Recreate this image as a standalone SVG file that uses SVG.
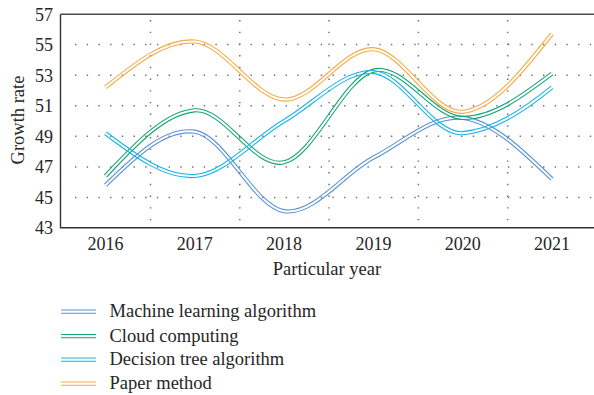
<svg xmlns="http://www.w3.org/2000/svg" xmlns:xlink="http://www.w3.org/1999/xlink" width="594" height="395" viewBox="0 0 594 395">
<style>
text{font-family:"Liberation Serif","Times New Roman",serif;fill:#262626}
.tick{font-size:18px}
.title{font-size:18.5px}
.leg{font-size:18.5px}
.grid{stroke:#6f6f6f;stroke-width:1.5;stroke-dasharray:1.4 10.3;fill:none}
.axis{stroke:#333;stroke-width:1.4;fill:none}
.curve{fill:none;stroke-width:4.2}
.ll{stroke-width:1.1;fill:none}
</style>
<defs>
<path id="pBlue" d="M105.5,185.2 C135.27,156.28 165.03,127.37 194.8,131.7 C224.57,136.03 254.33,206.87 284.1,211.2 C313.87,215.53 343.63,173.25 373.4,157.7 C403.17,142.15 432.93,114.33 462.7,117.9 C492.47,121.47 522.23,150.28 552,179.1"/>
<path id="pGreen" d="M105.5,176 C135.27,144.29 165.03,112.58 194.8,110.3 C224.57,108.02 254.33,168.92 284.1,162.3 C313.87,155.68 343.63,78 373.4,70.6 C403.17,63.2 432.93,117.4 462.7,117.9 C492.47,118.4 522.23,96 552,73.6"/>
<path id="pCyan" d="M105.5,133.2 C135.27,155.62 165.03,178.03 194.8,176 C224.57,173.97 254.33,138.32 284.1,121 C313.87,103.68 343.63,70.07 373.4,72.1 C403.17,74.13 432.93,135.23 462.7,133.2 C492.47,130.65 522.23,111.58 552,87.4"/>
<path id="pOrange" d="M105.5,87.4 C135.27,63.43 165.03,39.47 194.8,41.5 C224.57,43.53 254.33,98.32 284.1,99.6 C313.87,100.88 343.63,47.17 373.4,49.2 C403.17,51.23 432.93,114.35 462.7,111.8 C492.47,109.25 522.23,71.58 552,33.9"/>
<mask id="mBlue" maskUnits="userSpaceOnUse" x="0" y="0" width="594" height="395"><rect width="594" height="395" fill="#fff"/><use xlink:href="#pBlue" fill="none" stroke="#000" stroke-width="2"/></mask>
<mask id="mGreen" maskUnits="userSpaceOnUse" x="0" y="0" width="594" height="395"><rect width="594" height="395" fill="#fff"/><use xlink:href="#pGreen" fill="none" stroke="#000" stroke-width="2"/></mask>
<mask id="mCyan" maskUnits="userSpaceOnUse" x="0" y="0" width="594" height="395"><rect width="594" height="395" fill="#fff"/><use xlink:href="#pCyan" fill="none" stroke="#000" stroke-width="2"/></mask>
<mask id="mOrange" maskUnits="userSpaceOnUse" x="0" y="0" width="594" height="395"><rect width="594" height="395" fill="#fff"/><use xlink:href="#pOrange" fill="none" stroke="#000" stroke-width="2"/></mask>
</defs>
<rect width="594" height="395" fill="#fff"/>
<g id="grid">
<path class="grid" d="M75,44.6H594 M75,75.2H594 M75,105.7H594 M75,136.3H594 M75,166.9H594 M75,197.4H594"/>
<path class="grid" d="M150.5,20V228 M239.8,20V228 M329.1,20V228 M418.4,20V228 M507.7,20V228"/>
</g>
<g id="axes">
<path d="M60.5,14.3H594" stroke="#4a4a4a" stroke-width="1.6" fill="none"/>
<path class="axis" d="M60.5,14.3V227.7H594"/>
</g>
<g id="yticks" class="tick" text-anchor="end">
<text x="53" y="20.5">57</text>
<text x="53" y="51">55</text>
<text x="53" y="81.5">53</text>
<text x="53" y="112">51</text>
<text x="53" y="142.5">49</text>
<text x="53" y="173">47</text>
<text x="53" y="203.5">45</text>
<text x="53" y="234">43</text>
</g>
<g id="xticks" class="tick" text-anchor="middle">
<text x="105.5" y="250">2016</text>
<text x="194.8" y="250">2017</text>
<text x="284.1" y="250">2018</text>
<text x="373.4" y="250">2019</text>
<text x="462.7" y="250">2020</text>
<text x="552" y="250">2021</text>
</g>
<text class="title" x="327" y="275" text-anchor="middle">Particular year</text>
<text class="title" transform="translate(23.5,120) rotate(-90)" text-anchor="middle">Growth rate</text>
<g id="series">
<use xlink:href="#pBlue" class="curve" stroke="#5b94d3" mask="url(#mBlue)"/>
<use xlink:href="#pGreen" class="curve" stroke="#14a376" mask="url(#mGreen)"/>
<use xlink:href="#pCyan" class="curve" stroke="#1ab4e4" mask="url(#mCyan)"/>
<use xlink:href="#pOrange" class="curve" stroke="#f6aa46" mask="url(#mOrange)"/>
</g>
<g id="legend">
<g id="leg-ml"><path class="ll" stroke="#5b94d3" d="M61,310H96 M61,313.3H96"/><text class="leg" x="109.5" y="317">Machine learning algorithm</text></g>
<g id="leg-cc"><path class="ll" stroke="#14a376" d="M61,334.5H96 M61,337.8H96"/><text class="leg" x="109.5" y="341.5">Cloud computing</text></g>
<g id="leg-dt"><path class="ll" stroke="#1ab4e4" d="M61,358H96 M61,361.3H96"/><text class="leg" x="109.5" y="365">Decision tree algorithm</text></g>
<g id="leg-pm"><path class="ll" stroke="#f6aa46" d="M61,382H96 M61,385.3H96"/><text class="leg" x="109.5" y="389">Paper method</text></g>
</g>
</svg>
